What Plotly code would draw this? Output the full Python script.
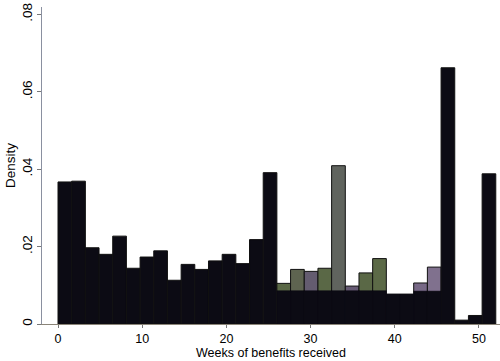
import plotly.graph_objects as go

# Histogram of weeks of benefits received: 32 bins over 0-52 weeks
bin_width = 1.625
n_bins = 32
bin_centers = [bin_width * (i + 0.5) for i in range(n_bins)]

# Density of each bin (full bar height)
density = [
    0.0367, 0.0369, 0.0197, 0.0180, 0.0227, 0.0144, 0.0173, 0.0189,
    0.0113, 0.0154, 0.0141, 0.0163, 0.0180, 0.0156, 0.0218, 0.0391,
    0.0105, 0.0141, 0.0136, 0.0144, 0.0409, 0.0098, 0.0132, 0.0169,
    0.0077, 0.0077, 0.0106, 0.0147, 0.0662, 0.0010, 0.0022, 0.0388,
]

# Lower dark band drawn over bins 17-28
band_centers = bin_centers[16:28]
band_density = [
    0.0086, 0.0086, 0.0086, 0.0086, 0.0086, 0.0086, 0.0086, 0.0086,
    0.0077, 0.0077, 0.0085, 0.0085,
]

dark = "#0c0b14"
green_grey = "#5a6846"
purple_grey = "#665a74"
bar_colors = [dark] * n_bins
for i, c in zip(range(16, 24), [green_grey, "#5e6450", "#645c70", green_grey,
                                 "#60645e", purple_grey, green_grey, "#5c6a47"]):
    bar_colors[i] = c
bar_colors[26] = "#776886"
bar_colors[27] = "#80718e"

x_ticks = [0, 10, 20, 30, 40, 50]
y_ticks = [0, 0.02, 0.04, 0.06, 0.08]
y_tick_text = ["0", ".02", ".04", ".06", ".08"]

fig = go.Figure()
fig.add_trace(go.Bar(
    x=bin_centers, y=density, width=bin_width,
    marker=dict(color=bar_colors, line=dict(color="#111111", width=1)),
))
fig.add_trace(go.Bar(
    x=band_centers, y=band_density, width=bin_width,
    marker=dict(color=dark, line=dict(color=dark, width=0.5)),
))

fig.update_layout(
    width=500, height=361,
    margin=dict(l=42, r=0, t=7, b=37),
    barmode="overlay",
    showlegend=False,
    plot_bgcolor="white",
    paper_bgcolor="white",
    font=dict(family="Liberation Sans, Arial, sans-serif", size=13.5, color="black"),
    xaxis=dict(
        range=[-1.9, 52.5], tickvals=x_ticks, ticks="outside", ticklen=3,
        tickcolor="#777777", showgrid=False, zeroline=False,
        showline=True, linecolor="#8a8478", linewidth=1,
        tickfont=dict(size=12.5),
    ),
    yaxis=dict(
        range=[0, 0.0819], tickvals=y_ticks, ticktext=y_tick_text,
        ticks="outside", ticklen=4, tickcolor="#777777", tickangle=-90,
        showgrid=False, zeroline=False,
        showline=True, linecolor="#8a90a0", linewidth=1,
        title=dict(text="Density", standoff=0, font=dict(size=13.5)),
        tickfont=dict(size=13.5),
    ),
    annotations=[dict(
        text="Weeks of benefits received", showarrow=False,
        xref="paper", yref="paper", x=0.5, y=-0.092,
        xanchor="center", yanchor="middle", font=dict(size=12.5),
    )],
)

fig.write_html("out.html")
